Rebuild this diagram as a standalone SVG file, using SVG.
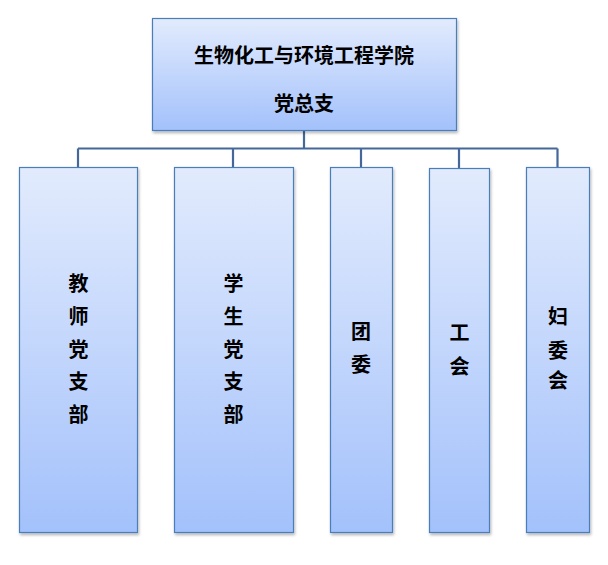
<svg xmlns="http://www.w3.org/2000/svg" width="608" height="565" viewBox="0 0 608 565">
<defs>
<linearGradient id="g" x1="0" y1="0" x2="0" y2="1">
<stop offset="0" stop-color="#E2EBFD"/>
<stop offset="1" stop-color="#A3C1FB"/>
</linearGradient>
<filter id="sh" x="-10%" y="-10%" width="130%" height="130%">
<feGaussianBlur in="SourceAlpha" stdDeviation="1.5"/>
<feOffset dx="1" dy="2" result="b"/>
<feComponentTransfer><feFuncA type="linear" slope="0.3"/></feComponentTransfer>
<feMerge><feMergeNode/><feMergeNode in="SourceGraphic"/></feMerge>
</filter>
<style>
.box{fill:url(#g);stroke:#4A7EBB;stroke-width:1.2;filter:url(#sh)}
.t{font-family:"Noto Sans CJK SC","Noto Sans",sans-serif;font-size:20px;font-weight:bold;fill:#000;text-anchor:middle}
.c{fill:none;stroke:#44689A;stroke-width:2.2}
</style>
</defs>
<rect width="608" height="565" fill="#fff"/>
<g id="connectors">
<path class="c" d="M304,130.5V148.5M78,148.5H557.5M78,148.5V167.5M233,148.5V167.5M361,148.5V167.5M459,148.5V168.5M557.5,148.5V167.5"/>
</g>
<g id="root">
<rect class="box" x="152.5" y="18.5" width="304" height="112"/>
<text class="t" x="304" y="62.5">生物化工与环境工程学院</text>
<text class="t" x="304" y="110.5">党总支</text>
</g>
<g id="teachers">
<rect class="box" x="19.5" y="167.5" width="118" height="365"/>
<text class="t" x="78.5" y="290.5">教</text>
<text class="t" x="78.5" y="323.5">师</text>
<text class="t" x="78.5" y="356.5">党</text>
<text class="t" x="78.5" y="389">支</text>
<text class="t" x="78.5" y="421.5">部</text>
</g>
<g id="students">
<rect class="box" x="174.5" y="167.5" width="119" height="365"/>
<text class="t" x="233.5" y="290.5">学</text>
<text class="t" x="233.5" y="323.5">生</text>
<text class="t" x="233.5" y="356.5">党</text>
<text class="t" x="233.5" y="389">支</text>
<text class="t" x="233.5" y="421.5">部</text>
</g>
<g id="league">
<rect class="box" x="330.5" y="167.5" width="62" height="365"/>
<text class="t" x="361" y="339">团</text>
<text class="t" x="361" y="371.5">委</text>
</g>
<g id="union">
<rect class="box" x="429.5" y="168.5" width="60" height="364"/>
<text class="t" x="459.5" y="340">工</text>
<text class="t" x="459.5" y="373.5">会</text>
</g>
<g id="women">
<rect class="box" x="526.5" y="167.5" width="63" height="365"/>
<text class="t" x="558" y="324">妇</text>
<text class="t" x="558" y="357.5">委</text>
<text class="t" x="558" y="388">会</text>
</g>
</svg>
